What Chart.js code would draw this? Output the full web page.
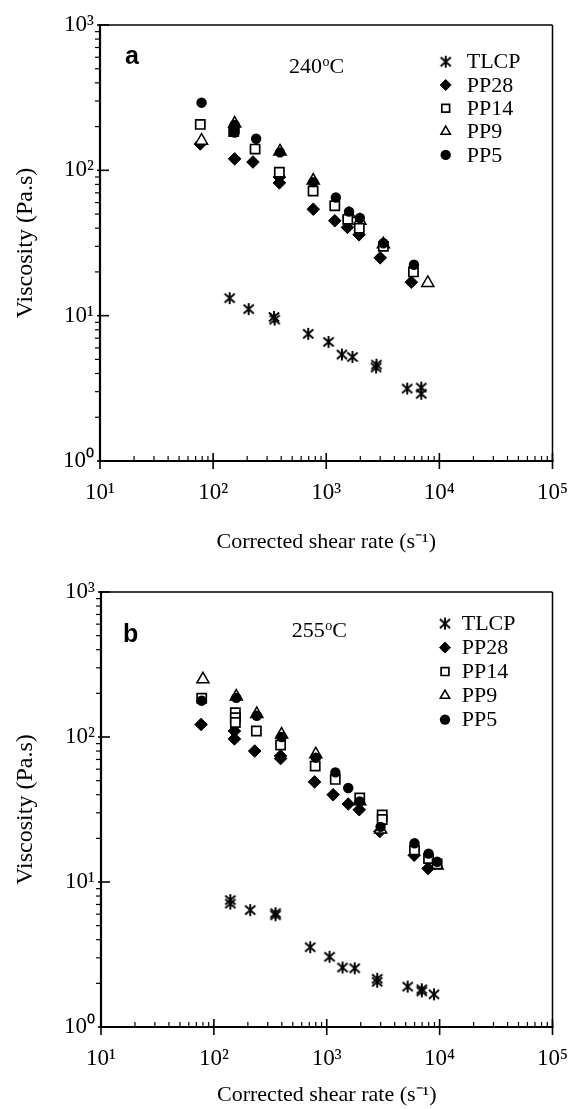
<!DOCTYPE html>
<html>
<head>
<meta charset="utf-8">
<script src="https://cdn.jsdelivr.net/npm/chart.js@4.4.0/dist/chart.umd.min.js"></script>
<style>
  html, body { margin: 0; padding: 0; background: #fff; }
  #wrap { position: relative; width: 586px; height: 1109px; }
  canvas { position: absolute; left: 0; }
  #chartA { top: 0; }
  #chartB { top: 555px; }
</style>
</head>
<body>
<div id="wrap">
  <canvas id="chartA" width="586" height="555"></canvas>
  <canvas id="chartB" width="586" height="554"></canvas>
</div>
<script>
// ---- valores: [velocidad de cizalla (s^-1), viscosidad (Pa.s)] ----
const seriesNames = ['TLCP', 'PP28', 'PP14', 'PP9', 'PP5'];
const xTickValues = [10, 100, 1000, 10000, 100000];
const xTickLabels = ['10¹', '10²', '10³', '10⁴', '10⁵'];
const yTickValues = [1, 10, 100, 1000];
const yTickLabels = ['10⁰', '10¹', '10²', '10³'];

// panel a (240 oC)
const tlcpA = [[140,13.2],[206,11.1],[345,9.8],[350,9.4],[693,7.5],[1047,6.6],[1375,5.4],[1706,5.2],[2780,4.6],[2760,4.4],[5200,3.15],[6920,3.2],[6920,2.9]];
const pp28A = [[77,152],[155,120],[225,114],[385,90],[385,82],[768,54],[1190,45],[1540,40.5],[1950,36],[3000,25],[5650,17]];
const pp14A = [[77,207],[152,185],[235,140],[385,97],[765,72],[1190,57],[1550,46],[1960,40],[3200,30],[5900,20]];
const pp9A  = [[79,160],[155,210],[390,135],[768,85],[1590,50],[1983,45],[3200,31],[7900,16.8]];
const pp5A  = [[79,292],[155,205],[155,192],[155,182],[240,165],[390,133],[768,83],[1216,65],[1590,52],[1983,47],[3200,31.5],[5960,22.4]];

// panel b (255 oC)
const tlcpB = [[140,7.5],[140,7.1],[210,6.4],[352,6.1],[352,5.9],[714,3.55],[1058,3.05],[1380,2.57],[1770,2.54],[2800,2.15],[2800,2.05],[5210,1.9],[6950,1.82],[6950,1.76],[8910,1.68]];
const pp28B = [[77,122],[152,110],[152,97],[230,80],[390,74],[390,71],[780,49],[1140,40],[1550,34.5],[1940,31.5],[2950,22.3],[5950,15.3],[7900,12.4]];
const pp14B = [[78,185],[155,147],[155,136],[155,126],[238,110],[390,88],[790,63],[1190,51],[1960,38],[3100,29],[3100,27],[5990,16.6],[7980,14.5],[9500,13.3]];
const pp9B  = [[80,250],[158,190],[240,144],[398,104],[800,76],[1960,36],[3000,23],[9500,13]];
const pp5B  = [[78,178],[158,186],[240,140],[398,100],[800,72],[1192,57],[1550,44.5],[1960,36],[3000,24],[5990,18.5],[7980,15.7],[9500,13.8]];

const SERIF = '"Liberation Serif", "Times New Roman", serif';
const SANS = '"Liberation Sans", Arial, sans-serif';

// asterisco de 6 brazos para TLCP
function makeAsterisk(size, lw) {
  const c = document.createElement('canvas');
  c.width = size; c.height = size;
  const g = c.getContext('2d');
  g.strokeStyle = '#000';
  g.lineWidth = lw;
  const m = size / 2, r = size / 2 - 1;
  g.beginPath();
  g.moveTo(m, m - r); g.lineTo(m, m + r);
  g.moveTo(m - r * 0.85, m - r * 0.75); g.lineTo(m + r * 0.85, m + r * 0.75);
  g.moveTo(m - r * 0.85, m + r * 0.75); g.lineTo(m + r * 0.85, m - r * 0.75);
  g.stroke();
  return c;
}
const asterisk = makeAsterisk(14, 1.9);

const toXY = arr => arr.map(p => ({ x: p[0], y: p[1] }));

function makeDatasets(tlcp, pp28, pp14, pp9, pp5) {
  return [
    { label: seriesNames[0], data: toXY(tlcp), pointStyle: asterisk, pointRadius: 7, order: 0 },
    { label: seriesNames[1], data: toXY(pp28), pointStyle: 'rectRot', pointRadius: 6.3,
      backgroundColor: '#000', borderColor: '#000', borderWidth: 1, order: 4 },
    { label: seriesNames[2], data: toXY(pp14), pointStyle: 'rect', pointRadius: 6.5,
      backgroundColor: '#fff', borderColor: '#000', borderWidth: 1.7, order: 2 },
    { label: seriesNames[3], data: toXY(pp9), pointStyle: 'triangle', pointRadius: 7,
      backgroundColor: '#fff', borderColor: '#000', borderWidth: 1.5, order: 3 },
    { label: seriesNames[4], data: toXY(pp5), pointStyle: 'circle', pointRadius: 5.2,
      backgroundColor: '#000', borderColor: '#000', borderWidth: 0, order: 1 }
  ];
}

function line(ctx, x1, y1, x2, y2) {
  ctx.beginPath(); ctx.moveTo(x1, y1); ctx.lineTo(x2, y2); ctx.stroke();
}

// marco, marcas de los ejes, letra del panel, temperatura y leyenda interna
const panelPlugin = {
  id: 'panel',
  afterDraw(chart, args, o) {
    const { ctx, chartArea: a, scales: { x, y } } = chart;
    ctx.save();
    ctx.strokeStyle = '#000';
    ctx.fillStyle = '#000';

    // marcas menores
    ctx.lineWidth = 1.2;
    for (let d = 10; d < 100000; d *= 10) {
      for (let m = 2; m <= 9; m++) {
        const px = x.getPixelForValue(d * m);
        line(ctx, px, a.bottom, px, a.bottom - 5);
      }
    }
    for (let d = 1; d < 1000; d *= 10) {
      for (let m = 2; m <= 9; m++) {
        const py = y.getPixelForValue(d * m);
        line(ctx, a.left - 5, py, a.left, py);
      }
    }
    // marcas mayores
    ctx.lineWidth = 1.6;
    xTickValues.forEach(v => {
      const px = x.getPixelForValue(v);
      line(ctx, px, a.bottom + 8, px, a.bottom - 8);
    });
    yTickValues.forEach(v => {
      const py = y.getPixelForValue(v);
      line(ctx, a.left - 3, py, a.left + 9, py);
    });
    // marco
    ctx.lineWidth = 1.5;
    line(ctx, a.left, a.top, a.right, a.top);
    line(ctx, a.right, a.top, a.right, a.bottom);
    ctx.lineWidth = 2.2;
    line(ctx, a.left, a.top - 1, a.left, a.bottom + 1);
    line(ctx, a.left - 1, a.bottom, a.right + 1, a.bottom);

    // letra del panel
    ctx.font = 'bold 25px ' + SANS;
    ctx.textBaseline = 'alphabetic';
    ctx.textAlign = 'left';
    ctx.fillText(o.letter, a.left + o.letterPos[0], a.top + o.letterPos[1]);

    // temperatura con la "o" volada
    let tx = a.left + o.tempPos[0];
    const ty = a.top + o.tempPos[1];
    ctx.font = '22px ' + SERIF;
    ctx.fillText(o.temp, tx, ty);
    tx += ctx.measureText(o.temp).width + 0.5;
    ctx.font = '14px ' + SERIF;
    ctx.fillText('o', tx, ty - 7);
    tx += ctx.measureText('o').width;
    ctx.font = '22px ' + SERIF;
    ctx.fillText('C', tx, ty);

    // leyenda
    const mx = a.left + o.legend.markerX;
    const lx = a.left + o.legend.textX;
    chart.data.datasets.forEach((ds, i) => {
      const cy = a.top + o.legend.top + i * o.legend.step;
      const po = chart.getDatasetMeta(i).data[0].options;
      ctx.save();
      ctx.fillStyle = po.backgroundColor;
      ctx.strokeStyle = po.borderColor;
      ctx.lineWidth = po.borderWidth;
      Chart.helpers.drawPoint(ctx, {
        pointStyle: po.pointStyle,
        rotation: 0,
        radius: Math.min(po.radius, 5.5),
        borderWidth: Math.min(po.borderWidth, 1.3)
      }, mx, cy);
      ctx.restore();
      ctx.font = '22px ' + SERIF;
      ctx.fillStyle = '#000';
      ctx.textBaseline = 'middle';
      ctx.fillText(ds.label, lx, cy + 1);
    });
    ctx.restore();
  }
};

function makeScales(yWidth, xHeight, titlePadX) {
  return {
    x: {
      type: 'logarithmic', min: 10, max: 100000,
      afterBuildTicks: s => { s.ticks = xTickValues.map(v => ({ value: v })); },
      afterFit: s => { s.height = xHeight; },
      grid: { display: false, drawTicks: false },
      border: { display: false },
      ticks: {
        autoSkip: false, maxRotation: 0, padding: 18, color: '#000',
        font: { family: SERIF, size: 23 },
        callback: (v, i) => xTickLabels[i]
      },
      title: {
        display: true, text: 'Corrected shear rate (s⁻¹)', color: '#000',
        font: { family: SERIF, size: 22 }, padding: { top: 0, bottom: titlePadX }
      }
    },
    y: {
      type: 'logarithmic', min: 1, max: 1000,
      afterBuildTicks: s => { s.ticks = yTickValues.map(v => ({ value: v })); },
      afterFit: s => { s.width = yWidth; },
      grid: { display: false, drawTicks: false },
      border: { display: false },
      ticks: {
        autoSkip: false, padding: 6, color: '#000',
        font: { family: SERIF, size: 23 },
        callback: (v, i) => yTickLabels[i]
      },
      title: {
        display: true, text: 'Viscosity (Pa.s)', color: '#000',
        font: { family: SERIF, size: 24 }, padding: { top: 11, bottom: 0 }
      }
    }
  };
}

function makeChart(id, datasets, padding, yWidth, xHeight, titlePadX, panel) {
  return new Chart(document.getElementById(id), {
    type: 'scatter',
    data: { datasets },
    options: {
      responsive: false,
      animation: false,
      devicePixelRatio: 1,
      layout: { padding },
      plugins: { legend: { display: false }, tooltip: { enabled: false }, panel },
      scales: makeScales(yWidth, xHeight, titlePadX)
    },
    plugins: [panelPlugin]
  });
}

makeChart('chartA', makeDatasets(tlcpA, pp28A, pp14A, pp9A, pp5A),
  { top: 25, right: 33, left: 0, bottom: 0 }, 100, 94, 0,
  { letter: 'a', letterPos: [25, 39], temp: '240', tempPos: [189, 47.5],
    legend: { markerX: 345.7, textX: 366.7, top: 36.7, step: 23.3 } });

makeChart('chartB', makeDatasets(tlcpB, pp28B, pp14B, pp9B, pp5B),
  { top: 37, right: 29, left: 0, bottom: 0 }, 101, 82, 1,
  { letter: 'b', letterPos: [22, 50], temp: '255', tempPos: [190.7, 45],
    legend: { markerX: 344, textX: 360.7, top: 31.6, step: 24 } });
</script>
</body>
</html>
